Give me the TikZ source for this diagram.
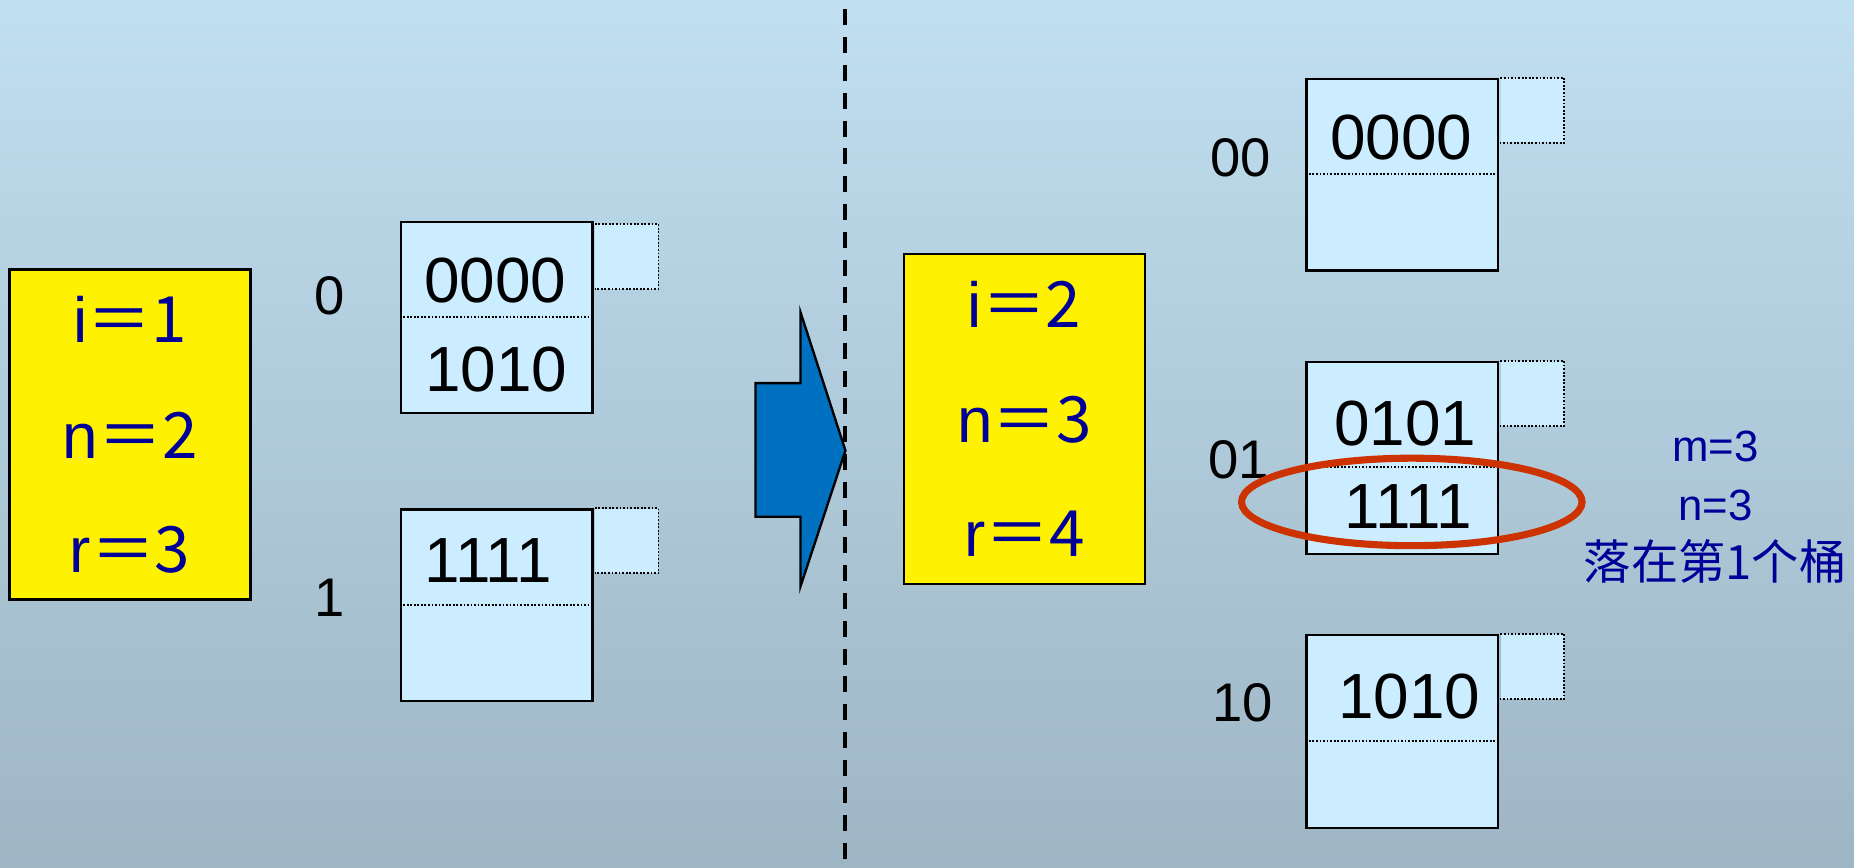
\documentclass[tikz,border=0pt]{standalone}
\usepackage{fontspec}
\setmainfont{Liberation Sans}
\newfontfamily\cjk{Noto Sans CJK SC}
\usetikzlibrary{shapes.geometric}
\definecolor{bgtop}{RGB}{192,223,240}
\definecolor{bgbot}{RGB}{158,181,196}
\definecolor{bucketfill}{RGB}{204,236,255}
\definecolor{txtblue}{RGB}{0,0,153}
\definecolor{arrowblue}{RGB}{0,112,192}
\definecolor{selred}{RGB}{204,51,0}
\begin{document}
\begin{tikzpicture}[x=1pt,y=-1pt,
  regbox/.style={draw=black,line width=2pt,fill=yellow,inner sep=0pt,minimum width=204pt,minimum height=279pt},
  bucket/.style={draw=black,line width=2pt,fill=bucketfill,inner sep=0pt,minimum width=162pt,minimum height=162pt,anchor=north west},
  side/.style={fill=bucketfill,inner sep=0pt,minimum width=53.5pt,minimum height=54.5pt,anchor=north west},
  dotline/.style={line width=1.6pt,dash pattern=on 1.5pt off 1.5pt},
  regtxt/.style={text=txtblue,font=\fontsize{54}{60}\selectfont,anchor=base,inner sep=0pt},
  keytxt/.style={font=\fontsize{54}{60}\selectfont,anchor=base,inner sep=0pt},
  idxtxt/.style={font=\fontsize{46}{52}\selectfont,anchor=base,inner sep=0pt},
  notetxt/.style={text=txtblue,font=\fontsize{37}{42}\selectfont,anchor=base,inner sep=0pt},
  cjktxt/.style={text=txtblue,font=\cjk\fontsize{40}{46}\selectfont,inner sep=0pt}]
\useasboundingbox (0,0) rectangle (1568,734);
\shade[top color=bgtop,bottom color=bgbot] (0,0) rectangle (1568,734);

% big arrow
\draw[fill=arrowblue,line width=2pt,line join=miter]
  (639,324) -- (677,324) -- (677,264) -- (715,381) -- (677,496) -- (677,437) -- (639,437) -- cycle;
% dashed separator
\draw[line width=3.4pt,dash pattern=on 13.5pt off 10pt] (714.5,8) -- (714.5,734);

% register boxes
\node[regbox] (reg1) at (110,367.5) {};
\node[regtxt] (ri1) at (110,289.8) {i\cjk{＝}1};
\node[regtxt] (rn1) at (110,387.6) {n\cjk{＝}2};
\node[regtxt] (rr1) at (110,484) {r\cjk{＝}3};

\node[regbox] (reg2) at (866.5,354.4) {};
\node[regtxt] (ri2) at (866.5,276.8) {i\cjk{＝}2};
\node[regtxt] (rn2) at (866.5,374) {n\cjk{＝}3};
\node[regtxt] (rr2) at (866.5,471) {r\cjk{＝}4};

% left buckets
\node[bucket] (b0) at (338,186.5) {};
\node[side] (s0) at ([xshift=1pt,yshift=-3pt]b0.north east) {};
\draw[dotline] (s0.north west) -- (s0.north east) -- (s0.south east) -- (s0.south west);
\draw[dotline] (b0.west |- 0,268) -- (b0.east |- 0,268);
\node[keytxt] (k00) at (419,256) {0000};
\node[keytxt] (k01) at (419.7,330.7) {1010};
\node[idxtxt] (i0) at (278.7,265.6) {0};

\node[bucket] (b1) at (338,430) {};
\node[side] (s1) at ([xshift=1pt]b1.north east) {};
\draw[dotline] (s1.north west) -- (s1.north east) -- (s1.south east) -- (s1.south west);
\draw[dotline] (b1.west |- 0,512) -- (b1.east |- 0,512);
\node[keytxt] (k10) at (413,492.8) {1111};
\node[idxtxt] (i1) at (279,521) {1};

% right buckets
\node[bucket] (c0) at (1104,65.7) {};
\node[side] (t0) at ([xshift=1pt]c0.north east) {};
\draw[dotline] (t0.north west) -- (t0.north east) -- (t0.south east) -- (t0.south west);
\draw[dotline] (c0.west |- 0,147.2) -- (c0.east |- 0,147.2);
\node[keytxt] (m00) at (1185,135.3) {0000};
\node[idxtxt] (j0) at (1049,149.4) {00};

\node[bucket] (c1) at (1104,305.3) {};
\node[side] (t1) at ([xshift=1pt]c1.north east) {};
\draw[dotline] (t1.north west) -- (t1.north east) -- (t1.south east) -- (t1.south west);
\draw[dotline] (c1.west |- 0,394.7) -- (c1.east |- 0,394.7);
\node[keytxt] (m10) at (1188.5,376.4) {0101};
\node[keytxt] (m11) at (1191,446.8) {1111};
\node[idxtxt] (j1) at (1047.6,404.5) {01};

\node[bucket,minimum height=163pt] (c2) at (1104,536.3) {};
\node[side] (t2) at ([xshift=1pt]c2.north east) {};
\draw[dotline] (t2.north west) -- (t2.north east) -- (t2.south east) -- (t2.south west);
\draw[dotline] (c2.west |- 0,626.4) -- (c2.east |- 0,626.4);
\node[keytxt] (m20) at (1191.7,607.5) {1010};
\node[idxtxt] (j2) at (1050.7,610.3) {10};

% highlight ellipse
\node[draw=selred,line width=6pt,ellipse,inner sep=0pt,minimum width=288pt,minimum height=74pt] (sel) at (1194,424.5) {};

% note
\node[notetxt] (nm) at (1450.6,390.5) {m=3};
\node[notetxt] (nn) at (1450.8,439.8) {n=3};
\node[cjktxt] (nb) at (1450.6,475) {落在第1个桶};
\end{tikzpicture}
\end{document}
